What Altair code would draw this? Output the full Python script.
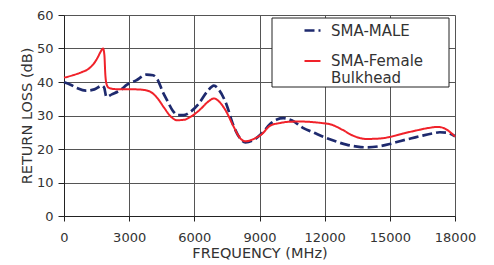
import altair as alt
import pandas as pd

# ---- data ----
male_freq = [0, 300, 600, 1000, 1400, 1750, 1850, 1950, 2200, 2600, 2900, 3300, 3800,
             4100, 4300, 4550, 4750, 5000, 5250, 5500, 5800, 6200, 6600, 6900, 7150,
             7450, 7800, 8100, 8350, 8700, 9100, 9500, 9800, 10100, 10500, 11000,
             11500, 12000, 12500, 13000, 13500, 13900, 14500, 15000, 15500, 16000,
             16500, 17000, 17300, 17600, 18000]
male_rl = [39.9, 39.2, 38.2, 37.4, 37.8, 38.9, 38.3, 35.6, 36.3, 37.6, 39.2, 40.4, 42.2,
           42.0, 40.8, 37.0, 34.5, 31.5, 30.1, 30.1, 31.0, 33.5, 37.2, 38.9, 37.5,
           33.8, 27.0, 23.2, 22.0, 22.6, 24.6, 27.5, 28.8, 29.2, 28.5, 26.3,
           24.9, 23.5, 22.3, 21.3, 20.7, 20.5, 20.8, 21.5, 22.4, 23.2,
           24.0, 24.7, 25.0, 24.9, 23.8]

female_freq = [0, 400, 800, 1100, 1350, 1550, 1700, 1800, 1860, 1900, 1950, 2050, 2300,
               2800, 3300, 3700, 4000, 4300, 4600, 4900, 5200, 5500, 5900, 6300, 6650,
               6900, 7150, 7450, 7800, 8100, 8350, 8700, 9100, 9500, 9900, 10300,
               10800, 11300, 11800, 12300, 12800, 13300, 13900, 14500, 15000, 15600,
               16200, 16800, 17200, 17500, 17800, 18000]
female_rl = [41.3, 42.0, 42.9, 43.8, 45.3, 47.3, 49.2, 50.0, 48.0, 42.5, 39.6, 38.3, 37.9,
             37.8, 37.8, 37.6, 37.0, 35.2, 32.4, 29.8, 28.6, 28.7, 29.9, 32.0, 34.2,
             35.1, 34.1, 31.4, 26.8, 23.3, 22.3, 22.9, 24.4, 27.0, 27.7, 28.1,
             28.2, 28.1, 27.8, 27.3, 25.8, 24.0, 23.0, 23.1, 23.6, 24.6,
             25.5, 26.3, 26.6, 26.2, 24.9, 23.7]

series_names = ["SMA-MALE", "SMA-Female Bulkhead"]
x_ticks = [0, 3000, 6000, 9000, 12000, 15000, 18000]
y_ticks = [0, 10, 20, 30, 40, 50, 60]

df = pd.concat([
    pd.DataFrame({"freq": male_freq, "rl": male_rl, "series": series_names[0], "order": range(len(male_freq))}),
    pd.DataFrame({"freq": female_freq, "rl": female_rl, "series": series_names[1], "order": range(len(female_freq))}),
])

FONT = "DejaVu Sans"
TXT = "#333333"
GRID = "#555555"

x_enc = alt.X("freq:Q", scale=alt.Scale(domain=[0, 18000], nice=False, zero=False),
              axis=alt.Axis(values=x_ticks, format="d", title="FREQUENCY (MHz)", grid=True,
                            gridColor=GRID, gridWidth=1, domainColor="#222222",
                            tickColor="#222222", tickSize=5, labelPadding=10,
                            labelFontSize=13, labelFont=FONT, labelColor=TXT,
                            titleFontSize=14.5, titleFont=FONT, titleColor=TXT,
                            titleFontWeight="normal", titlePadding=2,
                            labelFlush=False))
y_enc = alt.Y("rl:Q", scale=alt.Scale(domain=[0, 60], nice=False),
              axis=alt.Axis(values=y_ticks, title="RETURN LOSS (dB)", grid=True,
                            gridColor=GRID, gridWidth=1, domainColor="#222222",
                            tickColor="#222222", tickSize=6, labelPadding=5,
                            labelFontSize=13, labelFont=FONT, labelColor=TXT,
                            titleFontSize=14.5, titleFont=FONT, titleColor=TXT,
                            titleFontWeight="normal", titlePadding=2,
                            labelFlush=False))

lines = alt.Chart(df).mark_line(interpolate="monotone").encode(
    x=x_enc,
    y=y_enc,
    order="order:Q",
    color=alt.Color("series:N",
                    scale=alt.Scale(domain=series_names, range=["#1e2a6e", "#f0222a"]),
                    legend=alt.Legend(orient="none", legendX=239, legendY=6, title=None,
                                      padding=0, symbolType="stroke", symbolSize=256,
                                      symbolStrokeWidth=2.6, labelFont=FONT,
                                      labelFontSize=15, labelColor=TXT, labelOffset=9,
                                      labelLimit=0, rowPadding=13, labelBaseline="middle",
                                      labelExpr="datum.label == 'SMA-Female Bulkhead' ? ['SMA-Female', 'Bulkhead'] : datum.label")),
    strokeDash=alt.StrokeDash("series:N",
                              scale=alt.Scale(domain=series_names, range=[[10, 4], [1, 0]]),
                              legend=None),
    strokeWidth=alt.StrokeWidth("series:N",
                                scale=alt.Scale(domain=series_names, range=[2.7, 2.0]),
                                legend=None),
)

frame = alt.Chart(pd.DataFrame({"a": [0]})).mark_rect(
    fill="white", stroke="#222222", strokeWidth=1
).encode(x=alt.value(208), x2=alt.value(385), y=alt.value(3), y2=alt.value(72))

chart = alt.layer(lines, frame).properties(
    width=391, height=201,
    autosize=alt.AutoSizeParams(type="none"),
    padding={"left": 56, "top": 7, "right": 30, "bottom": 45},
).configure_view(strokeWidth=0).configure(background="white")

chart.save("out.html", embed_options={"renderer": "svg", "actions": False})
